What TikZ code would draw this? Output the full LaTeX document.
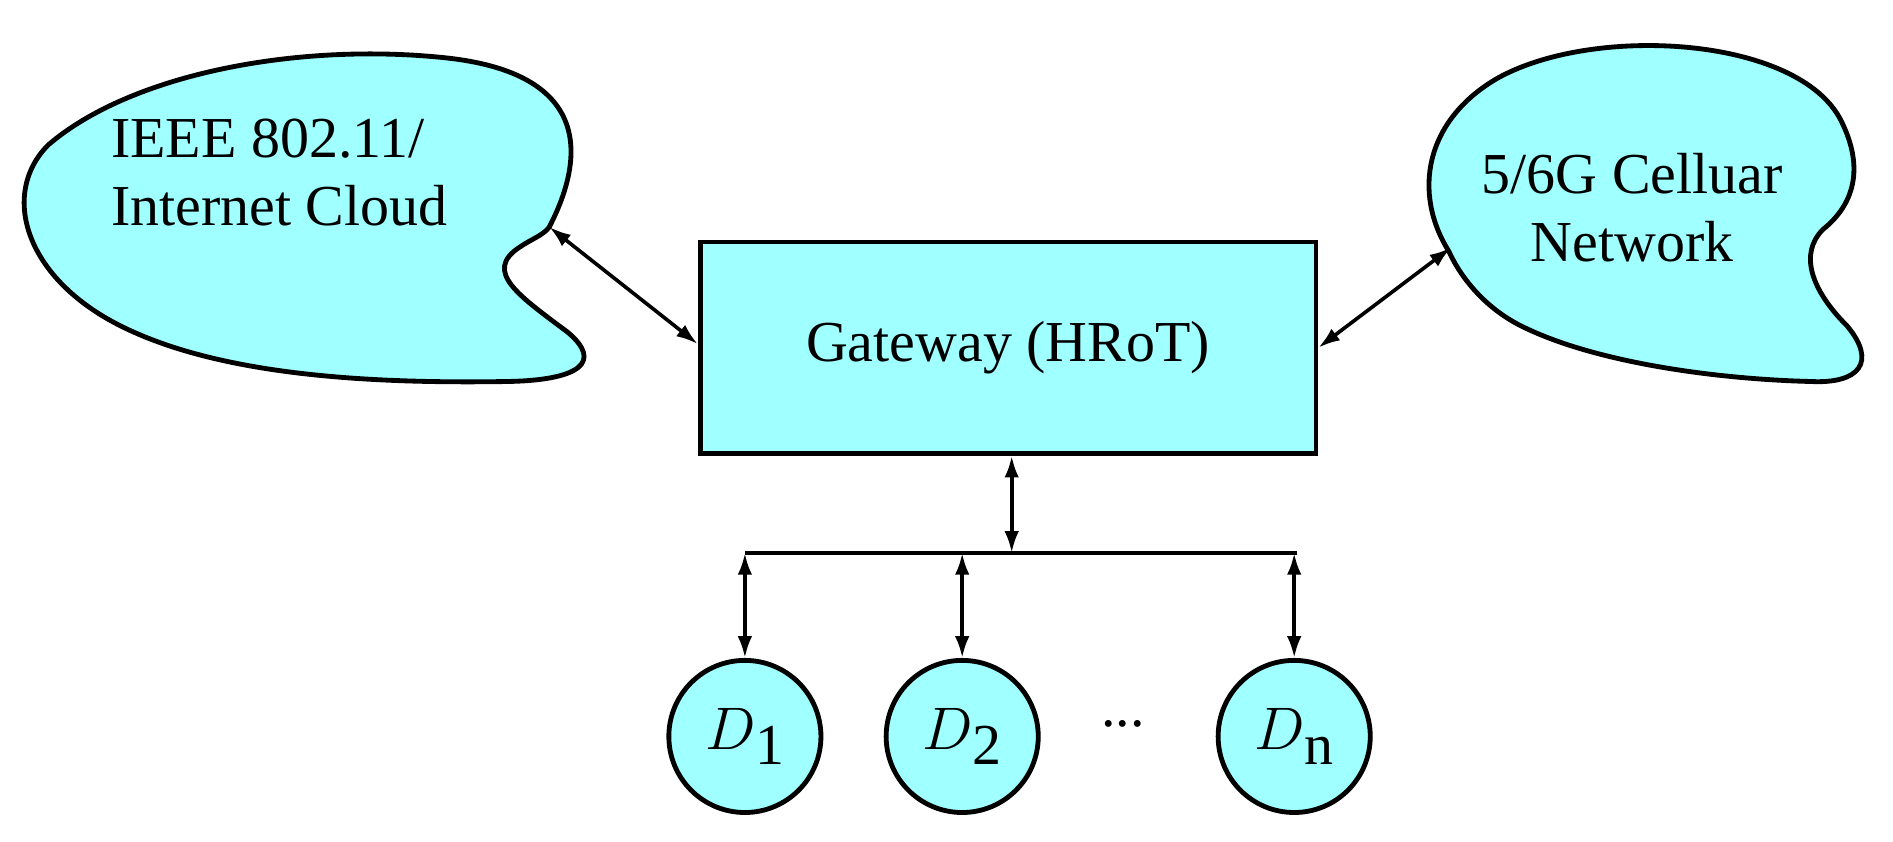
\documentclass[tikz,border=0pt]{standalone}
\usepackage{fontspec}
\setmainfont{Liberation Serif}
\usetikzlibrary{arrows.meta}
\definecolor{cy}{RGB}{160,255,255}
\begin{document}
\begin{tikzpicture}[x=0.5pt,y=-0.5pt,
  shp/.style={draw=black,fill=cy,line width=2pt},
  arr/.style={{Latex[length=9pt,width=6pt]}-{Latex[length=9pt,width=6pt]},line width=1.5pt},
  txt/.style={font=\fontsize{24}{28}\selectfont,align=center}]
\useasboundingbox (0,0) rectangle (1568,697);
% left cloud
\draw[shp] (455,188) .. controls (490,120) and (480,60) .. (370,48)
  .. controls (250,35) and (110,60) .. (40,120)
  .. controls (0,160) and (20,230) .. (100,270)
  .. controls (180,310) and (300,318) .. (420,316)
  .. controls (480,315) and (500,300) .. (470,275)
  .. controls (430,245) and (400,225) .. (430,205)
  .. controls (440,198) and (450,195) .. (455,188) -- cycle;
% right cloud
\draw[shp] (1200,208) .. controls (1170,160) and (1180,100) .. (1240,65)
  .. controls (1320,20) and (1490,30) .. (1525,100)
  .. controls (1545,140) and (1535,170) .. (1510,190)
  .. controls (1490,210) and (1500,240) .. (1530,270)
  .. controls (1555,300) and (1540,318) .. (1500,316)
  .. controls (1420,314) and (1320,300) .. (1260,270)
  .. controls (1230,255) and (1210,230) .. (1200,208) -- cycle;
\node[txt,anchor=west,align=left] (c1) at (85,143) {IEEE 802.11/\\Internet Cloud};
\node[txt] (c2) at (1352,172) {5/6G Celluar\\Network};
\node[shp,txt,minimum width=255pt,minimum height=87.5pt] (gw) at (835,288) {Gateway (HRoT)};
\coordinate (lc) at (455,188);
\coordinate (rc) at (1202,205);
\draw[arr] (lc) -- (gw.west|-0,285);
\draw[arr] (rc) -- (gw.east|-0,288);
\coordinate (b1) at (617,458);
\coordinate (b2) at (797,458);
\coordinate (bn) at (1074,458);
\coordinate (bm) at (838,458);
\draw[line width=1.5pt] (b1) -- (bn);
\draw[arr] (gw.south-|bm) -- (bm);
\foreach \n/\x/\l in {d1/617/1,d2/797/2,dn/1072/n}{
  \node[shp,circle,minimum size=63pt,inner sep=0pt,font=\fontsize{24}{28}\selectfont] (\n) at (\x,610) {$D$\raisebox{-6pt}{\l}};
}
\draw[arr] (b1) -- (d1.north);
\draw[arr] (b2) -- (d2.north);
\draw[arr] (1072,458) -- (dn.north);
\node[font=\fontsize{24}{28}\selectfont] (dots) at (930,600) {...};
\end{tikzpicture}
\end{document}
